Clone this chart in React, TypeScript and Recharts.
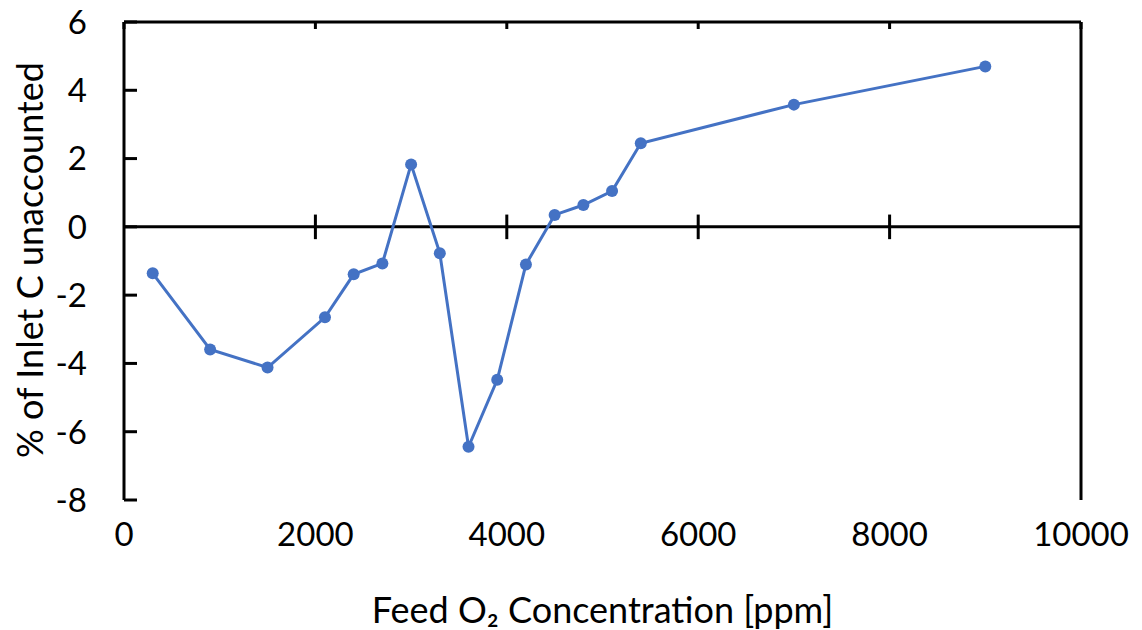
import React from "react";
import { LineChart, Line, XAxis, YAxis, ReferenceLine, Label } from "recharts";

// feed O2 concentration (ppm) and % of inlet carbon unaccounted
const feedO2 = [300, 900, 1500, 2100, 2400, 2700, 3000, 3300, 3600, 3900, 4200, 4500, 4800, 5100, 5400, 7000, 9000];
const unaccounted = [-1.36, -3.59, -4.12, -2.65, -1.39, -1.07, 1.83, -0.77, -6.44, -4.48, -1.1, 0.35, 0.64, 1.05, 2.45, 3.58, 4.7];

const xTicks = [0, 2000, 4000, 6000, 8000, 10000];
const yTicks = [-8, -6, -4, -2, 0, 2, 4, 6];

const data = feedO2.map((x, i) => ({ x, y: unaccounted[i] }));

const FONT = "Lato, 'Open Sans', sans-serif";
const BLUE = "#4472C4";
const AXIS = "#000";

const LeftTick = (props: any) => {
  const { x, y, payload } = props;
  const axisX = x + 37;
  return (
    <g>
      <line x1={axisX} x2={axisX + 13} y1={y} y2={y} stroke={AXIS} strokeWidth={3} />
      <text x={x} y={y} dy="0.36em" textAnchor="end" fontSize={33} fontFamily={FONT} fill="#000">
        {payload.value}
      </text>
    </g>
  );
};

const RightTick = (props: any) => {
  const { x, y } = props;
  return <line x1={x - 6} x2={x} y1={y} y2={y} stroke={AXIS} strokeWidth={3} />;
};

const TopTick = (props: any) => {
  const { x, y } = props;
  return <line x1={x} x2={x} y1={y} y2={y + 7} stroke={AXIS} strokeWidth={3} />;
};

const YTitle = () => (
  <text
    transform="translate(43,260) rotate(-90)"
    textAnchor="middle"
    fontSize={36}
    fontFamily={FONT}
    fill="#000"
  >
    % of Inlet C unaccounted
  </text>
);

export default function App() {
  return (
    <div style={{ position: "absolute", left: 0, top: 0, background: "#fff" }}>
      <LineChart width={1142} height={630} data={data} margin={{ top: 21, right: 60, bottom: 0, left: 0 }}>
        <XAxis
          xAxisId="bottom"
          dataKey="x"
          type="number"
          domain={[0, 10000]}
          ticks={xTicks}
          interval={0}
          height={130}
          axisLine={false}
          tickLine={false}
          tickSize={0}
          tickMargin={23}
          tick={{ fill: "#000", fontSize: 33, fontFamily: FONT }}
        >
          <Label
            value="Feed O₂ Concentration [ppm]"
            position="insideBottom"
            offset={7}
            fill="#000"
            fontSize={36}
            fontFamily={FONT}
          />
        </XAxis>
        <XAxis
          xAxisId="top"
          orientation="top"
          dataKey="x"
          type="number"
          domain={[0, 10000]}
          ticks={xTicks}
          interval={0}
          height={1}
          axisLine={{ stroke: AXIS, strokeWidth: 3 }}
          tickLine={false}
          tickSize={0}
          tickMargin={0}
          tick={<TopTick />}
        />
        <YAxis
          yAxisId="left"
          type="number"
          domain={[-8, 6]}
          ticks={yTicks}
          interval={0}
          width={124}
          axisLine={{ stroke: AXIS, strokeWidth: 3 }}
          tickLine={false}
          tickSize={0}
          tickMargin={37}
          tick={<LeftTick />}
        >
          <Label content={<YTitle />} />
        </YAxis>
        <YAxis
          yAxisId="right"
          orientation="right"
          type="number"
          domain={[-8, 6]}
          ticks={yTicks}
          interval={0}
          width={1}
          axisLine={{ stroke: AXIS, strokeWidth: 3 }}
          tickLine={false}
          tickSize={0}
          tickMargin={0}
          tick={<RightTick />}
        />
        <ReferenceLine xAxisId="bottom" yAxisId="left" y={0} stroke={AXIS} strokeWidth={3} />
        {xTicks
          .filter((t) => t > 0 && t < 10000)
          .map((t) => (
            <ReferenceLine
              key={t}
              xAxisId="bottom"
              yAxisId="left"
              segment={[
                { x: t, y: -0.36 },
                { x: t, y: 0.36 },
              ]}
              stroke={AXIS}
              strokeWidth={3}
            />
          ))}
        <Line
          xAxisId="bottom"
          yAxisId="left"
          type="linear"
          dataKey="y"
          stroke={BLUE}
          strokeWidth={3}
          dot={{ r: 6, fill: BLUE, stroke: BLUE, strokeWidth: 0 }}
          activeDot={false}
          isAnimationActive={false}
        />
      </LineChart>
    </div>
  );
}
